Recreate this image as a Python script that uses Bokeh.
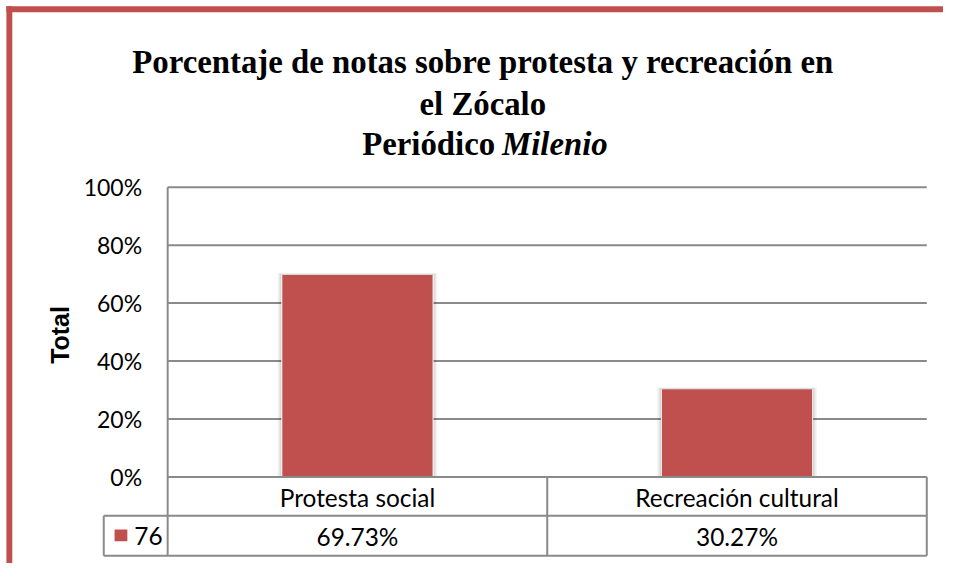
from bokeh.plotting import figure
from bokeh.models import Range1d, ColumnDataSource
from bokeh.core.properties import value
from bokeh.embed import file_html
from bokeh.resources import INLINE

# ---- data ----
categories = ["Protesta social", "Recreación cultural"]
values = [69.73, 30.27]
value_labels = ["69.73%", "30.27%"]
series_name = "76"
y_ticks = [0, 20, 40, 60, 80, 100]
y_tick_labels = ["0%", "20%", "40%", "60%", "80%", "100%"]
title_lines = ["Porcentaje de notas sobre protesta y recreación en", "el Zócalo"]
title_line3 = ["Periódico", "Milenio"]
y_label = "Total"

RED = "#C0504D"
GRID = "#8A8A8A"
SANS = "Lato"
SERIF = "Liberation Serif"

# canvas size (fits the window with its 8px margin); layout is laid out on a
# 959x579 reference grid and scaled to the canvas
W, H = 943, 563
REF_W, REF_H = 959, 579
S = (W / REF_W + H / REF_H) / 2
def fs(px):
    return f"{px * S:.1f}px"

# layout helpers: reference pixel -> data coordinate
def dx(px):
    return (px - 170.0) / 386.0
def dy(py):
    return (490.0 - py) / 2.98

p = figure(width=W, height=H, output_backend="svg", toolbar_location=None,
           x_range=Range1d(dx(0), dx(REF_W)), y_range=Range1d(dy(REF_H), dy(0)),
           x_axis_location=None, y_axis_location=None, min_border=0)
p.grid.visible = False
p.outline_line_color = None
p.background_fill_color = "white"
p.border_fill_color = "white"

n = len(categories)
xc = [i + 0.5 for i in range(n)]
x_left, x_right = 0.0, float(n)

# red chart border (top + left)
p.quad(left=[dx(6)], right=[dx(REF_W + 5)], top=[dy(6)], bottom=[dy(12)], fill_color=RED, line_color=None)
p.quad(left=[dx(6)], right=[dx(12)], top=[dy(6)], bottom=[dy(REF_H + 5)], fill_color=RED, line_color=None)

# gridlines
p.segment(x0=[x_left] * len(y_ticks[1:]), x1=[x_right] * len(y_ticks[1:]),
          y0=y_ticks[1:], y1=y_ticks[1:], line_color=GRID, line_width=2)
# vertical axis line
p.segment(x0=[x_left], x1=[x_left], y0=[0], y1=[100], line_color=GRID, line_width=2)

# y tick labels
p.text(x=[dx(144)] * len(y_ticks), y=y_ticks, text=y_tick_labels,
       text_align="right", text_baseline="middle", text_font=value(SANS),
       text_font_size=fs(23.5), text_color="black")

# y axis title
p.text(x=[dx(61)], y=[dy(344)], text=[y_label], angle=1.5708, text_align="center",
       text_baseline="middle", text_font=value("Liberation Sans"), text_font_style="bold",
       text_font_size=fs(25.5), text_color="black")

# bars with soft shadow
bw = 0.396
src = ColumnDataSource(dict(x=xc, top=values, cat=categories, lab=value_labels))
for k, a in [(5, 0.04), (3.5, 0.06), (2, 0.09)]:
    p.vbar(x=xc, width=bw + 2 * k / 386.0, top=[v + k / 2.98 * 0.4 for v in values],
           bottom=0, fill_color="black", fill_alpha=a, line_color=None)
p.vbar(x="x", width=bw + 2.0 / 386.0, top="top", bottom=0, source=src,
       fill_color="white", line_color=None)
p.vbar(x="x", width=bw, top="top", bottom=0, source=src, fill_color=RED, line_color=None)

# data table
row1_top, row1_bot, row2_bot = 0.0, dy(530), dy(571)
legend_left = dx(105)
p.segment(x0=[x_left, legend_left, legend_left], x1=[x_right] * 3,
          y0=[row1_top, row1_bot, row2_bot], y1=[row1_top, row1_bot, row2_bot],
          line_color=GRID, line_width=2)
vx = [x_left + i for i in range(n + 1)]
p.segment(x0=vx, x1=vx, y0=[row1_top] * len(vx), y1=[row2_bot] * len(vx),
          line_color=GRID, line_width=2)
p.segment(x0=[legend_left], x1=[legend_left], y0=[row1_bot], y1=[row2_bot],
          line_color=GRID, line_width=2)

row1_mid = dy(511)
row2_mid = dy(551)
p.text(x="x", y=row1_mid, text="cat", source=src, text_align="center",
       text_baseline="middle", text_font=value(SANS), text_font_size=fs(25), text_color="black")
p.text(x="x", y=row2_mid, text="lab", source=src, text_align="center",
       text_baseline="middle", text_font=value(SANS), text_font_size=fs(25), text_color="black")

# legend key
p.quad(left=[dx(116)], right=[dx(129)], top=[dy(544)], bottom=[dy(556)], fill_color=RED, line_color=None)
p.text(x=[dx(136)], y=[row2_mid], text=[series_name], text_align="left",
       text_baseline="middle", text_font=value(SANS), text_font_size=fs(25), text_color="black")

# title
TFS = fs(33.5)
p.text(x=[dx(490.5)] * 2, y=[dy(63), dy(106)], text=title_lines, text_align="center",
       text_baseline="alphabetic", text_font=value(SERIF), text_font_style="bold",
       text_font_size=TFS, text_color="black")
p.text(x=[dx(503)], y=[dy(148)], text=[title_line3[0]], text_align="right",
       text_baseline="alphabetic", text_font=value(SERIF), text_font_style="bold",
       text_font_size=TFS, text_color="black")
p.text(x=[dx(510)], y=[dy(148)], text=[title_line3[1]], text_align="left",
       text_baseline="alphabetic", text_font=value(SERIF), text_font_style="bold italic",
       text_font_size=TFS, text_color="black")

open("out.html", "w").write(file_html(p, INLINE))
